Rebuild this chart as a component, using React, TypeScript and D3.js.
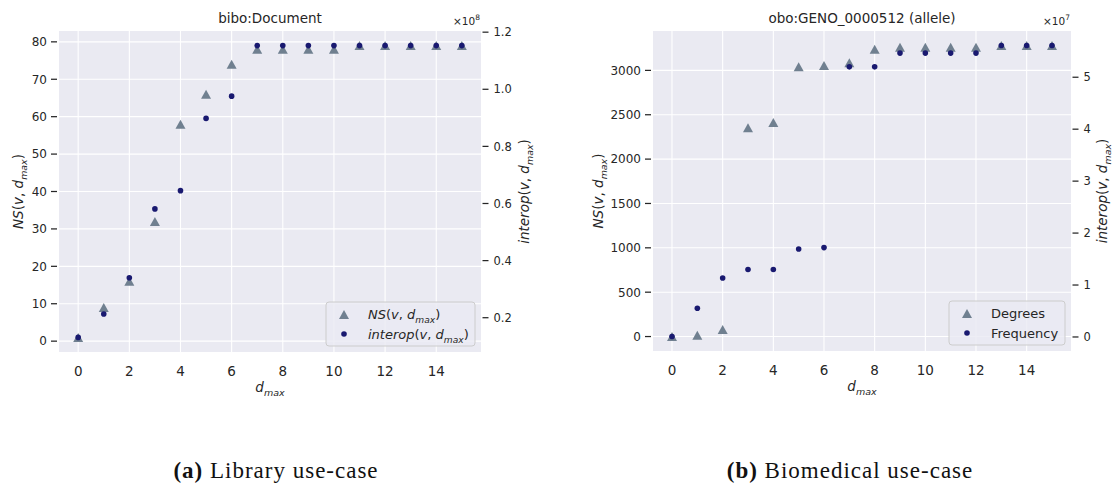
import React from "react";
import * as d3 from "d3";

// ---------------- data ----------------
const dmax = [0, 1, 2, 3, 4, 5, 6, 7, 8, 9, 10, 11, 12, 13, 14, 15];

// (a) bibo:Document
const libNS = [1, 9, 16, 32, 58, 66, 74, 78, 78, 78, 78, 79, 79, 79, 79, 79];
const libInterop = [0.131, 0.213, 0.34, 0.581, 0.645, 0.898, 0.976, 1.153, 1.153, 1.153, 1.153, 1.153, 1.153, 1.153, 1.153, 1.153]; // ×1e8

// (b) obo:GENO_0000512 (allele)
const bioDegrees = [1, 15, 80, 2354, 2414, 3041, 3056, 3086, 3239, 3261, 3261, 3261, 3261, 3280, 3280, 3280];
const bioFrequency = [0.01, 0.554, 1.134, 1.3, 1.3, 1.694, 1.72, 5.2, 5.2, 5.465, 5.465, 5.465, 5.465, 5.61, 5.61, 5.61]; // ×1e7

const xTicks = [0, 2, 4, 6, 8, 10, 12, 14];
const libLeftTicks = [0, 10, 20, 30, 40, 50, 60, 70, 80];
const libRightTicks = [0.2, 0.4, 0.6, 0.8, 1.0, 1.2];
const bioLeftTicks = [0, 500, 1000, 1500, 2000, 2500, 3000];
const bioRightTicks = [0, 1, 2, 3, 4, 5];

// ---------------- style ----------------
const FONT = "'DejaVu Sans', sans-serif";
const INK = "#262626";
const BG = "#EAEAF2";
const TRI = "#708090";
const DOT = "#191970";

function padded(vals: number[]): [number, number] {
  const lo = d3.min(vals) as number;
  const hi = d3.max(vals) as number;
  const r = hi - lo;
  return [lo - 0.05 * r, hi + 0.05 * r];
}

function Func({ name, fs }: { name: string; fs: number }) {
  const sub = fs * 0.3;
  return (
    <>
      <tspan fontStyle="italic">{name}</tspan>
      <tspan>(</tspan>
      <tspan fontStyle="italic">v</tspan>
      <tspan>, </tspan>
      <tspan fontStyle="italic">d</tspan>
      <tspan fontStyle="italic" fontSize={fs * 0.7} dy={sub}>max</tspan>
      <tspan dy={-sub}>)</tspan>
    </>
  );
}

function triPath(cx: number, cy: number, w = 10, h = 9) {
  return `M${cx},${cy - h / 2}L${cx + w / 2},${cy + h / 2}L${cx - w / 2},${cy + h / 2}Z`;
}

type PanelProps = {
  box: { x0: number; x1: number; y0: number; y1: number };
  title: string;
  left: number[];
  right: number[];
  leftTicks: number[];
  rightTicks: number[];
  rightFmt: (v: number) => string;
  exponent: string;
  legendMath: boolean;
  legendLabels: string[];
  legendWidth: number;
  leftLabelX: number;
  rightLabelX: number;
};

function Panel(p: PanelProps) {
  const { box } = p;
  const x = d3.scaleLinear().domain(padded(dmax)).range([box.x0, box.x1]);
  const yl = d3.scaleLinear().domain(padded(p.left)).range([box.y1, box.y0]);
  const yr = d3.scaleLinear().domain(padded(p.right)).range([box.y1, box.y0]);
  const cx = (box.x0 + box.x1) / 2;
  const cy = (box.y0 + box.y1) / 2;
  const lgX = box.x1 - 6 - p.legendWidth;
  const lgY = box.y1 - 6 - 44;
  return (
    <g fontFamily={FONT} fill={INK}>
      <rect x={box.x0} y={box.y0} width={box.x1 - box.x0} height={box.y1 - box.y0} fill={BG} />
      {/* grid */}
      {xTicks.map((t) => (
        <line key={"gx" + t} x1={x(t)} x2={x(t)} y1={box.y0} y2={box.y1} stroke="#fff" strokeWidth={1.1} />
      ))}
      {p.leftTicks.map((t) => (
        <line key={"gy" + t} x1={box.x0} x2={box.x1} y1={yl(t)} y2={yl(t)} stroke="#fff" strokeWidth={1.1} />
      ))}
      {/* left ticks */}
      {p.leftTicks.map((t) => (
        <g key={"lt" + t}>
          <line x1={box.x0 - 8} x2={box.x0 - 2} y1={yl(t)} y2={yl(t)} stroke={INK} strokeWidth={1.25} />
          <text x={box.x0 - 12} y={yl(t)} dy="0.36em" textAnchor="end" fontSize={12}>{t}</text>
        </g>
      ))}
      {/* right ticks */}
      {p.rightTicks.map((t) => (
        <g key={"rt" + t}>
          <line x1={box.x1 + 1.5} x2={box.x1 + 7.5} y1={yr(t)} y2={yr(t)} stroke={INK} strokeWidth={1.25} />
          <text x={box.x1 + 12.5} y={yr(t)} dy="0.36em" fontSize={11.5}>{p.rightFmt(t)}</text>
        </g>
      ))}
      {/* x ticks */}
      {xTicks.map((t) => (
        <text key={"xt" + t} x={x(t)} y={box.y1 + 23.5} textAnchor="middle" fontSize={13.5}>{t}</text>
      ))}
      {/* marks */}
      {dmax.map((d, i) => (
        <path key={"tr" + i} d={triPath(x(d), yl(p.left[i]))} fill={TRI} />
      ))}
      {dmax.map((d, i) => (
        <circle key={"dt" + i} cx={x(d)} cy={yr(p.right[i])} r={2.8} fill={DOT} />
      ))}
      {/* title */}
      <text x={cx} y={22.5} textAnchor="middle" fontSize={13.5}>{p.title}</text>
      {/* exponent */}
      <text x={box.x1 - 1} y={25} textAnchor="end" fontSize={10.5}>
        ×10<tspan fontSize={7.5} dy={-5}>{p.exponent}</tspan>
      </text>
      {/* axis labels */}
      <text x={cx} y={box.y1 + 40} textAnchor="middle" fontSize={13.5}>
        <tspan fontStyle="italic">d</tspan>
        <tspan fontStyle="italic" fontSize={9.5} dy={4}>max</tspan>
      </text>
      <text transform={`translate(${p.leftLabelX},${cy}) rotate(-90)`} textAnchor="middle" fontSize={13.5}>
        <Func name="NS" fs={13.5} />
      </text>
      <text transform={`translate(${p.rightLabelX},${cy}) rotate(-90)`} textAnchor="middle" fontSize={13.5}>
        <Func name="interop" fs={13.5} />
      </text>
      {/* legend */}
      <rect x={lgX} y={lgY} width={p.legendWidth} height={44} rx={3} fill={BG} fillOpacity={0.8} stroke="#cccccc" strokeWidth={1} />
      <path d={triPath(lgX + 18, lgY + 12.5)} fill={TRI} />
      <circle cx={lgX + 18} cy={lgY + 32} r={2.8} fill={DOT} />
      <text x={lgX + 42} y={lgY + 12.5} dy="0.36em" fontSize={13}>
        {p.legendMath ? <Func name="NS" fs={13} /> : p.legendLabels[0]}
      </text>
      <text x={lgX + 42} y={lgY + 32} dy="0.36em" fontSize={13}>
        {p.legendMath ? <Func name="interop" fs={13} /> : p.legendLabels[1]}
      </text>
    </g>
  );
}

export default function App() {
  return (
    <svg
      width={1112}
      height={495}
      viewBox="0 0 1112 495"
      style={{ position: "absolute", left: 0, top: 0, background: "#fff" }}
    >
      <Panel
        box={{ x0: 59, x1: 481, y0: 31, y1: 352 }}
        title="bibo:Document"
        left={libNS}
        right={libInterop}
        leftTicks={libLeftTicks}
        rightTicks={libRightTicks}
        rightFmt={(v) => v.toFixed(1)}
        exponent="8"
        legendMath={true}
        legendLabels={["", ""]}
        legendWidth={149}
        leftLabelX={22.5}
        rightLabelX={529}
      />
      <Panel
        box={{ x0: 653, x1: 1071, y0: 31, y1: 351 }}
        title="obo:GENO_0000512 (allele)"
        left={bioDegrees}
        right={bioFrequency}
        leftTicks={bioLeftTicks}
        rightTicks={bioRightTicks}
        rightFmt={(v) => String(v)}
        exponent="7"
        legendMath={false}
        legendLabels={["Degrees", "Frequency"]}
        legendWidth={116}
        leftLabelX={603}
        rightLabelX={1107}
      />
      <g fontFamily="'Liberation Serif', serif" fontSize={23} fill="#111" letterSpacing={1}>
        <text x={276} y={478} textAnchor="middle">
          <tspan fontWeight="bold">(a)</tspan> Library use-case
        </text>
        <text x={850} y={478} textAnchor="middle">
          <tspan fontWeight="bold">(b)</tspan> Biomedical use-case
        </text>
      </g>
    </svg>
  );
}
